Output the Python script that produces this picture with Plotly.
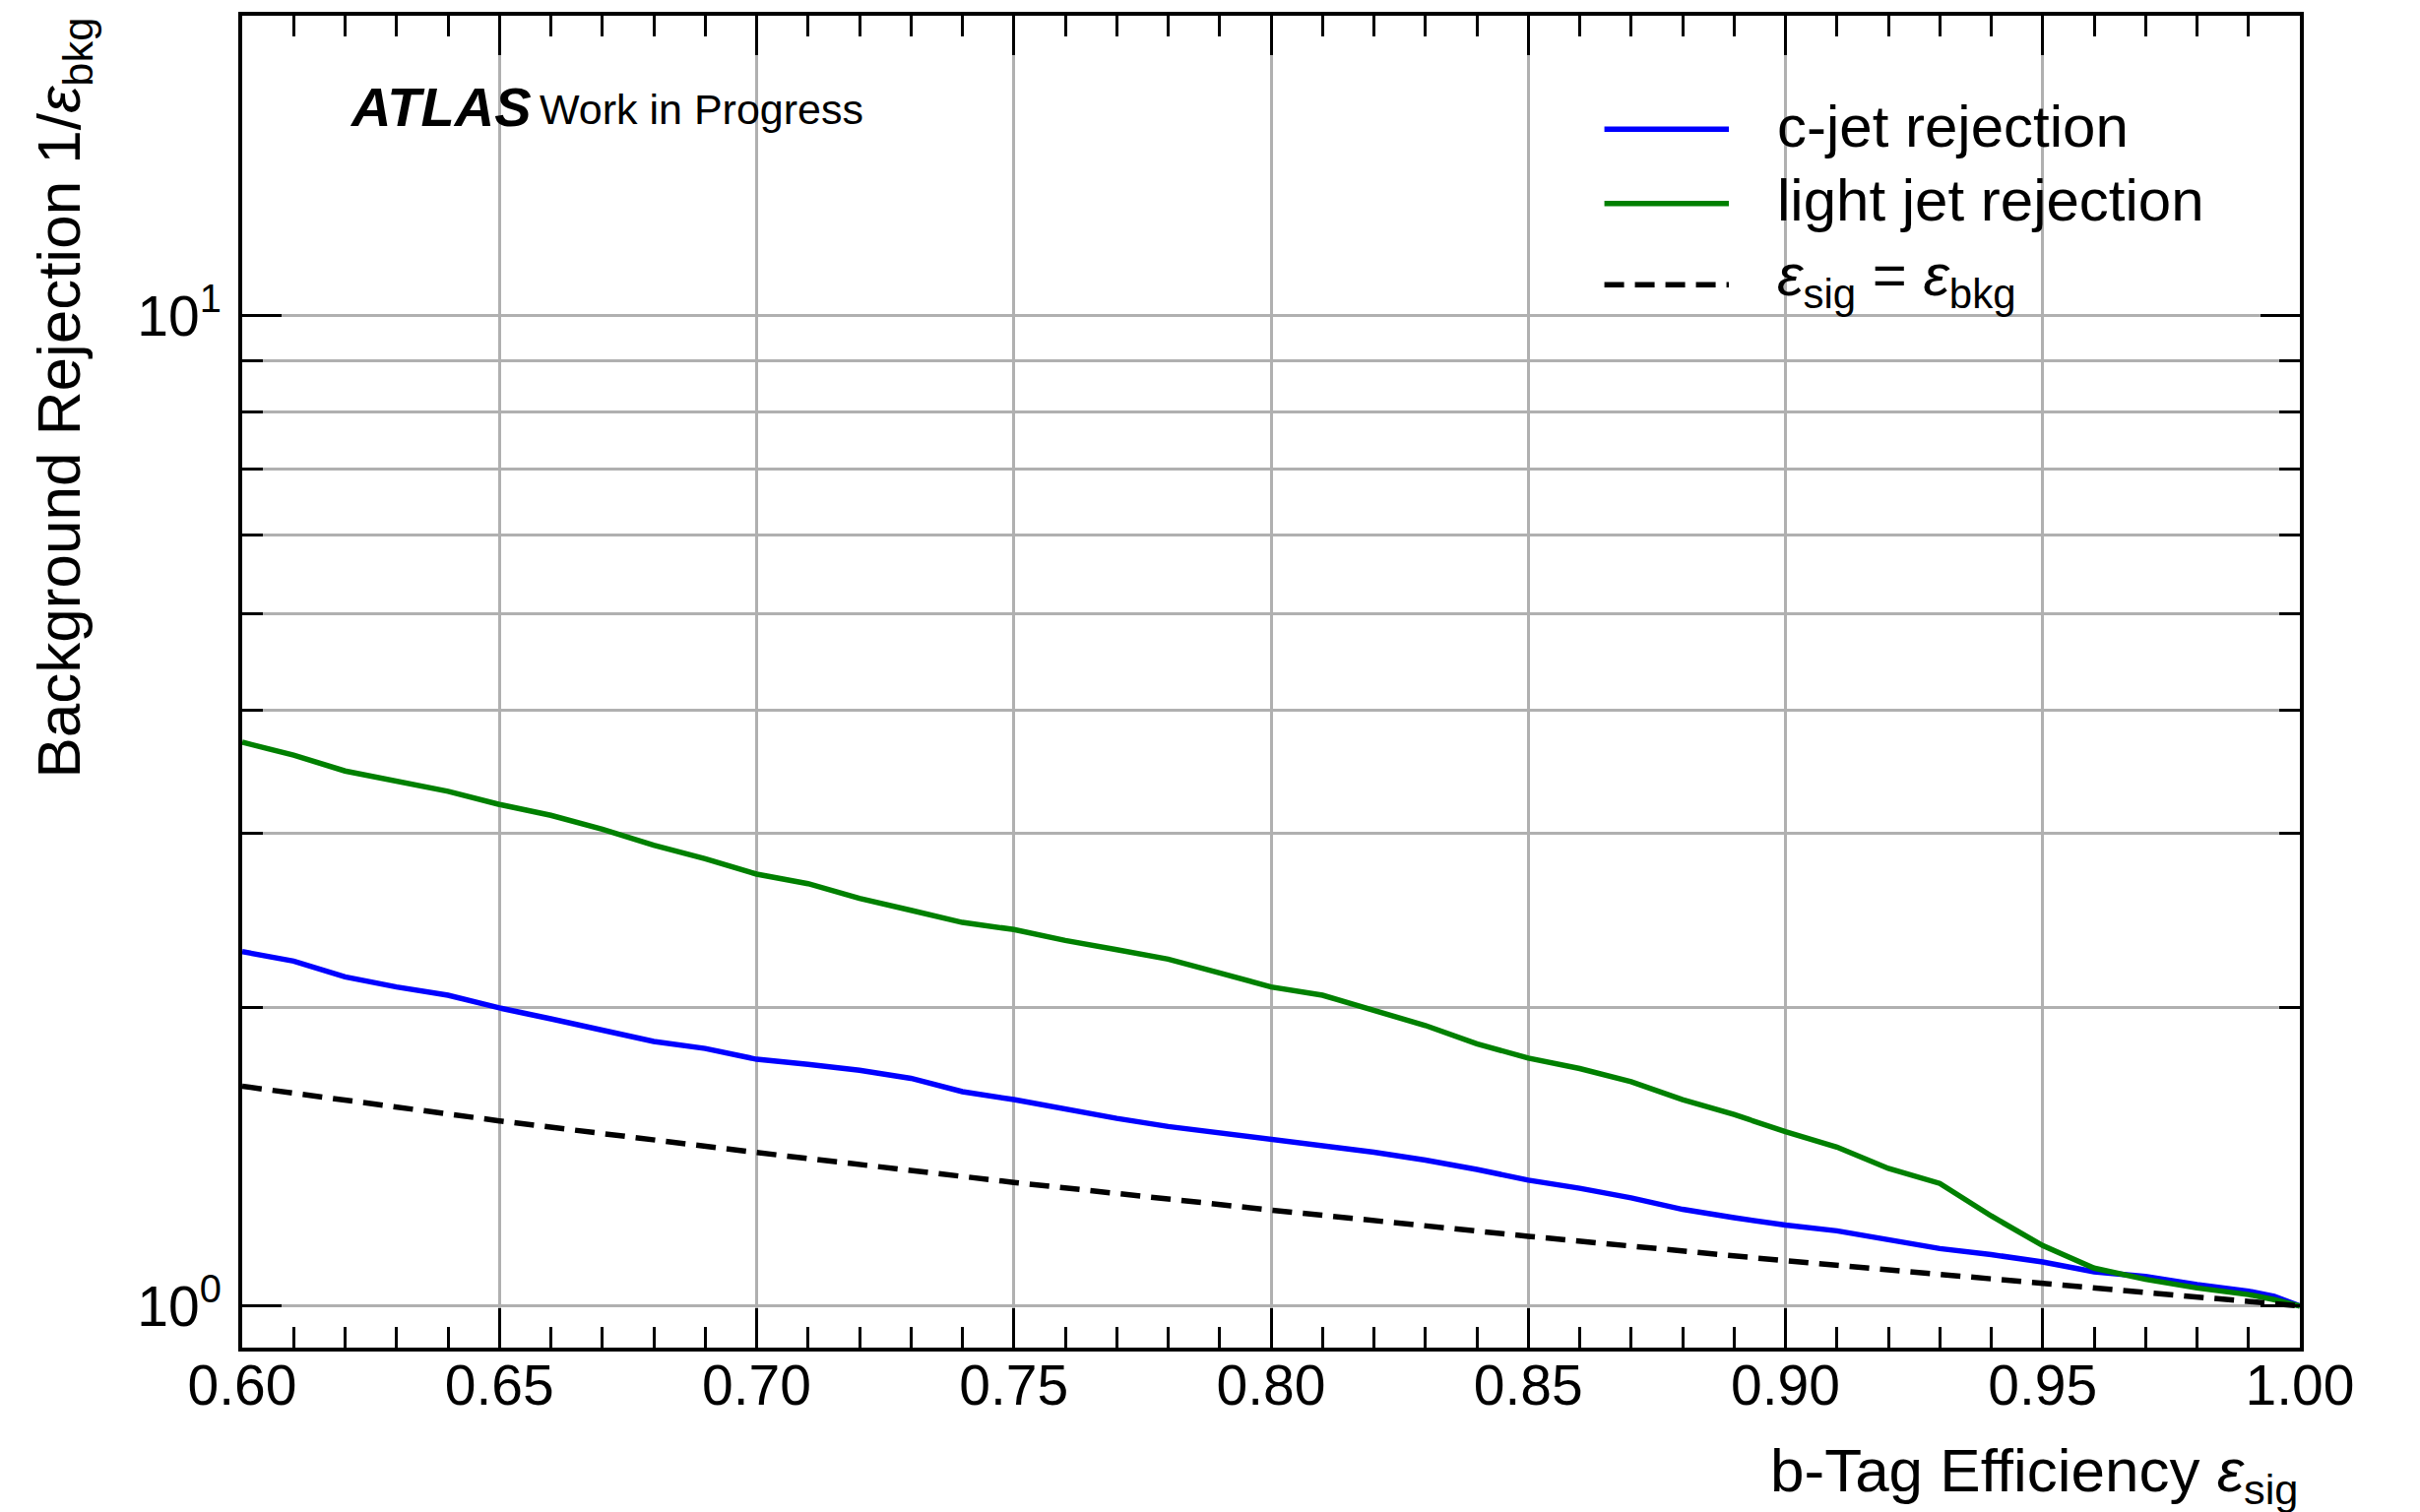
import plotly.graph_objects as go

# ---- data ----
b_eff = [0.60, 0.61, 0.62, 0.63, 0.64, 0.65, 0.66, 0.67, 0.68, 0.69,
         0.70, 0.71, 0.72, 0.73, 0.74, 0.75, 0.76, 0.77, 0.78, 0.79,
         0.80, 0.81, 0.82, 0.83, 0.84, 0.85, 0.86, 0.87, 0.88, 0.89,
         0.90, 0.91, 0.92, 0.93, 0.94, 0.95, 0.96, 0.97, 0.98, 0.99,
         0.995, 1.00]

c_rej = [2.28, 2.23, 2.15, 2.10, 2.06, 2.00, 1.95, 1.90, 1.85, 1.82,
         1.775, 1.754, 1.73, 1.698, 1.646, 1.616, 1.58, 1.547, 1.518, 1.496,
         1.47, 1.453, 1.43, 1.404, 1.374, 1.34, 1.315, 1.286, 1.252, 1.228,
         1.207, 1.191, 1.165, 1.143, 1.127, 1.108, 1.083, 1.071, 1.051, 1.035,
         1.023, 1.00]

light_rej = [3.71, 3.60, 3.47, 3.39, 3.31, 3.21, 3.13, 3.03, 2.92, 2.83,
             2.73, 2.67, 2.58, 2.51, 2.44, 2.40, 2.34, 2.29, 2.24, 2.17,
             2.10, 2.06, 1.99, 1.92, 1.84, 1.78, 1.737, 1.685, 1.616, 1.561,
             1.50, 1.447, 1.377, 1.33, 1.233, 1.151, 1.092, 1.064, 1.043, 1.027,
             1.015, 1.00]

ref_eff = [0.60, 0.65, 0.70, 0.75, 0.80, 0.85, 0.90, 0.95, 1.00]
ref_rej = [1.667, 1.538, 1.429, 1.333, 1.250, 1.176, 1.111, 1.053, 1.000]

x_ticks = [0.60, 0.65, 0.70, 0.75, 0.80, 0.85, 0.90, 0.95, 1.00]
y_major = [1, 10]
y_major_text = ["10<sup>0</sup>", "10<sup>1</sup>"]
y_minor = [2, 3, 4, 5, 6, 7, 8, 9]

series_names = ["c-jet rejection", "light jet rejection",
                "<i>ε</i><sub>sig</sub> = <i>ε</i><sub>bkg</sub>"]
series_colors = ["#0000ff", "#008000", "black"]
series_dash = ["solid", "solid", "20px,11px"]

FONT = "Liberation Sans, Arial, Helvetica, sans-serif"
LW = 5.5

fig = go.Figure()
fig.add_trace(go.Scatter(x=b_eff, y=c_rej, mode="lines", name=series_names[0],
                         line=dict(color=series_colors[0], width=LW)))
fig.add_trace(go.Scatter(x=b_eff, y=light_rej, mode="lines", name=series_names[1],
                         line=dict(color=series_colors[1], width=LW)))
fig.add_trace(go.Scatter(x=ref_eff, y=ref_rej, mode="lines", name=series_names[2],
                         line=dict(color=series_colors[2], width=LW, dash=series_dash[2])))

axis_common = dict(
    showline=True, linecolor="black", linewidth=3.5, mirror="allticks",
    ticks="inside", tickcolor="black", tickwidth=3, ticklen=40,
    showgrid=True, gridcolor="#b0b0b0", gridwidth=2.5,
    zeroline=False,
    tickfont=dict(family=FONT, size=57, color="black"),
)

fig.update_xaxes(
    **axis_common,
    range=[0.6, 1.0], tickvals=x_ticks, tickformat=".2f",
    ticklabelstandoff=-14,
    minor=dict(dtick=0.01, ticks="inside", ticklen=21, tickwidth=2.5,
               tickcolor="black", showgrid=False),
)
fig.update_yaxes(
    **axis_common,
    type="log", range=[-0.042, 1.303],
    tickvals=y_major, ticktext=y_major_text,
    ticklabelstandoff=6,
    minor=dict(tickvals=y_minor, ticks="inside", ticklen=21, tickwidth=2.5,
               tickcolor="black", showgrid=True, gridcolor="#b0b0b0", gridwidth=2.5),
)

# legend drawn in paper coordinates (long line samples like the reference)
leg_y = [0.9148, 0.8591, 0.798]
leg_x0, leg_x1, leg_xt = 0.662, 0.7225, 0.745
shapes = []
annotations = []
for i in range(3):
    shapes.append(dict(type="line", xref="paper", yref="paper",
                       x0=leg_x0, x1=leg_x1, y0=leg_y[i], y1=leg_y[i],
                       line=dict(color=series_colors[i], width=LW, dash=series_dash[i])))
    annotations.append(dict(text=series_names[i], xref="paper", yref="paper",
                            x=leg_xt, y=leg_y[i] + (0.004 if i == 2 else 0.002),
                            xanchor="left", yanchor="middle", showarrow=False,
                            font=dict(family=FONT, size=60, color="black")))

annotations += [
    dict(text="b-Tag Efficiency <i>ε</i><sub>sig</sub>", xref="paper", yref="paper",
         x=1.0, y=-0.095, xanchor="right", yanchor="middle", showarrow=False,
         font=dict(family=FONT, size=62, color="black")),
    dict(text="Background Rejection 1/<i>ε</i><sub>bkg</sub>", xref="paper", yref="paper",
         x=-0.087, y=0.713, xanchor="center", yanchor="middle", textangle=-90,
         showarrow=False, font=dict(family=FONT, size=62, color="black")),
    dict(text="<b><i>ATLAS</i></b>",
         xref="paper", yref="paper", x=0.0512, y=0.932, xanchor="left", yanchor="middle",
         showarrow=False, font=dict(family=FONT, size=56, color="black")),
    dict(text="Work in Progress",
         xref="paper", yref="paper", x=0.1435, y=0.9295, xanchor="left", yanchor="middle",
         showarrow=False, font=dict(family=FONT, size=43, color="black")),
]

fig.update_layout(
    width=2458, height=1536,
    margin=dict(l=246, r=122, t=13, b=167),
    paper_bgcolor="white", plot_bgcolor="white",
    font=dict(family=FONT, color="black"),
    showlegend=False,
    shapes=shapes,
    annotations=annotations,
)

fig.write_html("out.html")
